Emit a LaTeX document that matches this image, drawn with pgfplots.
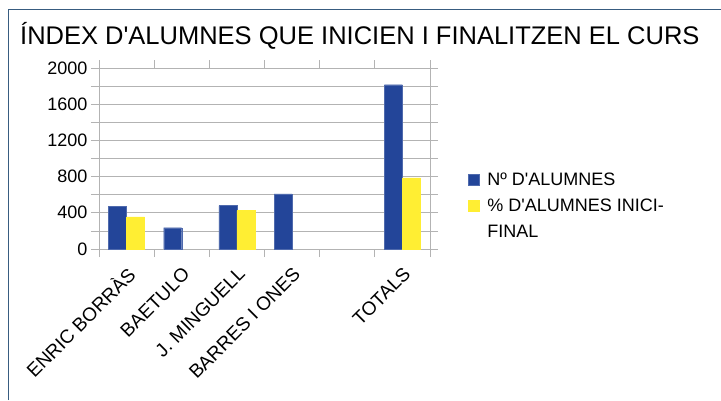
\documentclass[border=0pt]{standalone}
\usepackage{pgfplots}
\pgfplotsset{compat=1.18}
\usepackage{fontspec}
\setmainfont{Liberation Sans}
\definecolor{cblue}{RGB}{35,69,153}
\definecolor{cyellow}{RGB}{255,238,51}
\definecolor{cgrid}{RGB}{179,179,179}
\definecolor{cframe}{RGB}{56,92,128}
\newcommand{\q}{\textquotesingle}
\begin{document}
\begin{tikzpicture}[x=1pt,y=1pt]
\path[use as bounding box] (0,0) rectangle (721,400);
\draw[cframe,line width=1pt] (8,0) -- (8,390) -- (721,390);
\node[anchor=base west,inner sep=0pt,font=\fontsize{25.5}{30}\selectfont] at (20,355) {ÍNDEX D\q ALUMNES QUE INICIEN I FINALITZEN EL CURS};
\begin{axis}[
  at={(99pt,151pt)}, anchor=south west,
  width=331pt, height=181pt, scale only axis,
  ybar=0pt, bar width=18pt,
  xmin=-0.5, xmax=5.5, ymin=0, ymax=2000,
  xtick={0,1,2,3,4,5},
  xticklabels={ENRIC BORRÀS,BAETULO,J. MINGUELL,BARRES I ONES,,TOTALS},
  major x tick style={draw=none},
  minor xtick={-0.5,0.5,1.5,2.5,3.5,4.5,5.5},
  minor x tick style={cgrid,line width=0.8pt},
  ytick={0,400,...,2000},
  minor ytick={200,600,...,1800},
  ymajorgrids, yminorgrids,
  grid style={cgrid,line width=0.8pt},
  minor grid style={cgrid,line width=0.8pt},
  tick align=outside,
  major tick length=8pt, minor tick length=8pt,
  tick style={cgrid,line width=0.8pt},
  axis line style={cgrid,line width=0.8pt},
  /pgf/number format/assume math mode=true,
  /pgf/number format/1000 sep={},
  tick label style={font=\fontsize{18}{21}\selectfont, text=black},
  xticklabel style={font=\fontsize{19}{22}\selectfont, rotate=45, anchor=east, yshift=-13pt, xshift=-3pt},
  legend style={at={(1.105,0.445)}, anchor=north west, draw=none, fill=none,
    font=\fontsize{18}{21}\selectfont, row sep=8pt, cells={anchor=west}},
  legend image code/.code={\fill[#1] (0pt,-5.5pt) rectangle (11pt,5.5pt); \path (17pt,0pt);},
]
\addplot[fill=cblue, draw=cblue!80!white] coordinates {(0,473) (1,235) (2,480) (3,608) (5,1815)};
\addplot[fill=cyellow, draw=cyellow] coordinates {(0,355) (2,425) (5,785)};
\addlegendentry{Nº D\q ALUMNES}
\addlegendentry{\% D\q ALUMNES INICI-}
\addlegendimage{empty legend}
\addlegendentry{FINAL}
\end{axis}
\end{tikzpicture}
\end{document}
